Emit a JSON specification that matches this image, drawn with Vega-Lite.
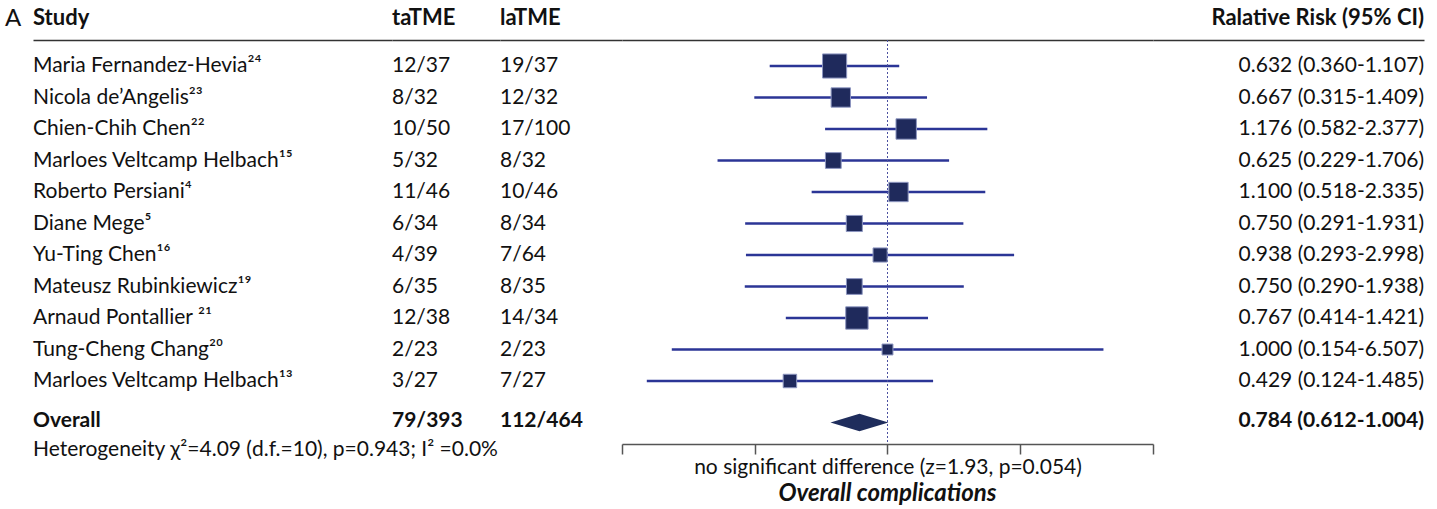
{
  "$schema": "https://vega.github.io/schema/vega-lite/v6.json",
  "bounds": "flush",
  "spacing": 0,
  "padding": {"left": 5, "top": 7, "right": 5, "bottom": 0},
  "background": "white",
  "config": {
    "view": {"stroke": null},
    "font": "Lato",
    "text": {"font": "Lato", "fontSize": 21, "color": "#111111", "baseline": "middle"},
    "title": {"font": "Lato", "fontSize": 22, "fontWeight": "bold", "color": "#111111", "baseline": "alphabetic", "offset": 10}
  },
  "datasets": {
    "studies": [
      {"study": "Maria Fernandez-Hevia²⁴", "ta": "12/37", "la": "19/37", "rr": 0.632, "lo": 0.360, "hi": 1.107, "weight": 16.6, "label": "0.632 (0.360-1.107)"},
      {"study": "Nicola de’Angelis²³", "ta": "8/32", "la": "12/32", "rr": 0.667, "lo": 0.315, "hi": 1.409, "weight": 10.7, "label": "0.667 (0.315-1.409)"},
      {"study": "Chien-Chih Chen²²", "ta": "10/50", "la": "17/100", "rr": 1.176, "lo": 0.582, "hi": 2.377, "weight": 11.9, "label": "1.176 (0.582-2.377)"},
      {"study": "Marloes Veltcamp Helbach¹⁵", "ta": "5/32", "la": "8/32", "rr": 0.625, "lo": 0.229, "hi": 1.706, "weight": 7.1, "label": "0.625 (0.229-1.706)"},
      {"study": "Roberto Persiani⁴", "ta": "11/46", "la": "10/46", "rr": 1.100, "lo": 0.518, "hi": 2.335, "weight": 10.7, "label": "1.100 (0.518-2.335)"},
      {"study": "Diane Mege⁵", "ta": "6/34", "la": "8/34", "rr": 0.750, "lo": 0.291, "hi": 1.931, "weight": 7.4, "label": "0.750 (0.291-1.931)"},
      {"study": "Yu-Ting Chen¹⁶", "ta": "4/39", "la": "7/64", "rr": 0.938, "lo": 0.293, "hi": 2.998, "weight": 5.7, "label": "0.938 (0.293-2.998)"},
      {"study": "Mateusz Rubinkiewicz¹⁹", "ta": "6/35", "la": "8/35", "rr": 0.750, "lo": 0.290, "hi": 1.938, "weight": 7.1, "label": "0.750 (0.290-1.938)"},
      {"study": "Arnaud Pontallier ²¹", "ta": "12/38", "la": "14/34", "rr": 0.767, "lo": 0.414, "hi": 1.421, "weight": 14.3, "label": "0.767 (0.414-1.421)"},
      {"study": "Tung-Cheng Chang²⁰", "ta": "2/23", "la": "2/23", "rr": 1.000, "lo": 0.154, "hi": 6.507, "weight": 3.4, "label": "1.000 (0.154-6.507)"},
      {"study": "Marloes Veltcamp Helbach¹³", "ta": "3/27", "la": "7/27", "rr": 0.429, "lo": 0.124, "hi": 1.485, "weight": 5.2, "label": "0.429 (0.124-1.485)"}
    ],
    "overall": [
      {"study": "Overall", "ta": "79/393", "la": "112/464", "rr": 0.784, "lo": 0.612, "hi": 1.004, "label": "0.784 (0.612-1.004)"}
    ],
    "het": [
      {"study": "Heterogeneity χ²=4.09 (d.f.=10), p=0.943; I² =0.0%"}
    ]
  },
  "hconcat": [
    {
      "width": 28,
      "height": 404,
      "title": {"text": "A", "anchor": "start", "font": "Lato", "fontSize": 24, "fontWeight": "normal", "offset": 9},
      "data": {"values": []},
      "mark": "text"
    },
    {
      "width": 359,
      "height": 404,
      "title": {"text": "Study", "anchor": "start"},
      "encoding": {
        "x": {"datum": 0, "type": "quantitative", "scale": {"domain": [0, 1]}, "axis": {"orient": "top", "domain": true, "domainColor": "#333333", "domainWidth": 1.5, "ticks": false, "labels": false, "grid": false, "title": null}},
        "y": {"field": "study", "type": "nominal", "axis": null, "scale": {"type": "point", "padding": 0.4127, "align": 1, "domain": ["Maria Fernandez-Hevia²⁴", "Nicola de’Angelis²³", "Chien-Chih Chen²²", "Marloes Veltcamp Helbach¹⁵", "Roberto Persiani⁴", "Diane Mege⁵", "Yu-Ting Chen¹⁶", "Mateusz Rubinkiewicz¹⁹", "Arnaud Pontallier ²¹", "Tung-Cheng Chang²⁰", "Marloes Veltcamp Helbach¹³", "Overall", "Heterogeneity χ²=4.09 (d.f.=10), p=0.943; I² =0.0%"]}}
      },
      "layer": [
        {"data": {"name": "studies"}, "mark": {"type": "text", "align": "left"}, "encoding": {"text": {"field": "study"}}},
        {"data": {"name": "overall"}, "mark": {"type": "text", "align": "left", "fontWeight": "bold", "dy": 8}, "encoding": {"text": {"field": "study"}}},
        {"data": {"name": "het"}, "mark": {"type": "text", "align": "left", "dy": 6}, "encoding": {"text": {"field": "study"}}}
      ]
    },
    {
      "width": 108,
      "height": 404,
      "title": {"text": "taTME", "anchor": "start"},
      "encoding": {
        "x": {"datum": 0, "type": "quantitative", "scale": {"domain": [0, 1]}, "axis": {"orient": "top", "domain": true, "domainColor": "#333333", "domainWidth": 1.5, "ticks": false, "labels": false, "grid": false, "title": null}},
        "y": {"field": "study", "type": "nominal", "axis": null, "scale": {"type": "point", "padding": 0.4127, "align": 1, "domain": ["Maria Fernandez-Hevia²⁴", "Nicola de’Angelis²³", "Chien-Chih Chen²²", "Marloes Veltcamp Helbach¹⁵", "Roberto Persiani⁴", "Diane Mege⁵", "Yu-Ting Chen¹⁶", "Mateusz Rubinkiewicz¹⁹", "Arnaud Pontallier ²¹", "Tung-Cheng Chang²⁰", "Marloes Veltcamp Helbach¹³", "Overall", "Heterogeneity χ²=4.09 (d.f.=10), p=0.943; I² =0.0%"]}}
      },
      "layer": [
        {"data": {"name": "studies"}, "mark": {"type": "text", "align": "left"}, "encoding": {"text": {"field": "ta"}}},
        {"data": {"name": "overall"}, "mark": {"type": "text", "align": "left", "fontWeight": "bold", "dy": 8}, "encoding": {"text": {"field": "ta"}}}
      ]
    },
    {
      "width": 122,
      "height": 404,
      "title": {"text": "laTME", "anchor": "start"},
      "encoding": {
        "x": {"datum": 0, "type": "quantitative", "scale": {"domain": [0, 1]}, "axis": {"orient": "top", "domain": true, "domainColor": "#333333", "domainWidth": 1.5, "ticks": false, "labels": false, "grid": false, "title": null}},
        "y": {"field": "study", "type": "nominal", "axis": null, "scale": {"type": "point", "padding": 0.4127, "align": 1, "domain": ["Maria Fernandez-Hevia²⁴", "Nicola de’Angelis²³", "Chien-Chih Chen²²", "Marloes Veltcamp Helbach¹⁵", "Roberto Persiani⁴", "Diane Mege⁵", "Yu-Ting Chen¹⁶", "Mateusz Rubinkiewicz¹⁹", "Arnaud Pontallier ²¹", "Tung-Cheng Chang²⁰", "Marloes Veltcamp Helbach¹³", "Overall", "Heterogeneity χ²=4.09 (d.f.=10), p=0.943; I² =0.0%"]}}
      },
      "layer": [
        {"data": {"name": "studies"}, "mark": {"type": "text", "align": "left"}, "encoding": {"text": {"field": "la"}}},
        {"data": {"name": "overall"}, "mark": {"type": "text", "align": "left", "fontWeight": "bold", "dy": 8}, "encoding": {"text": {"field": "la"}}}
      ]
    },
    {
      "width": 531,
      "height": 404,
      "title": {"text": "Overall complications", "orient": "bottom", "anchor": "middle", "fontSize": 24, "fontWeight": "bold", "fontStyle": "italic", "baseline": "top", "offset": 4},
      "resolve": {"axis": {"x": "independent"}},
      "layer": [
        {
          "data": {"name": "studies"},
          "mark": {"type": "rule", "color": "#2b3596", "strokeWidth": 2.5},
          "encoding": {
            "x": {"field": "lo", "type": "quantitative", "scale": {"type": "log", "domain": [0.1, 10]}, "axis": {"orient": "top", "domain": true, "domainColor": "#333333", "domainWidth": 1.5, "ticks": false, "labels": false, "grid": false, "title": null}},
            "x2": {"field": "hi"},
            "y": {"field": "study", "type": "nominal", "axis": null, "scale": {"type": "point", "padding": 0.4127, "align": 1, "domain": ["Maria Fernandez-Hevia²⁴", "Nicola de’Angelis²³", "Chien-Chih Chen²²", "Marloes Veltcamp Helbach¹⁵", "Roberto Persiani⁴", "Diane Mege⁵", "Yu-Ting Chen¹⁶", "Mateusz Rubinkiewicz¹⁹", "Arnaud Pontallier ²¹", "Tung-Cheng Chang²⁰", "Marloes Veltcamp Helbach¹³", "Overall", "Heterogeneity χ²=4.09 (d.f.=10), p=0.943; I² =0.0%"]}}
          }
        },
        {
          "data": {"values": [{"ref": 1}]},
          "mark": {"type": "rule", "color": "#4b50a0", "strokeWidth": 1, "strokeDash": [2, 2]},
          "encoding": {
            "x": {"field": "ref", "type": "quantitative", "axis": {"orient": "bottom", "domain": true, "domainColor": "#555555", "domainWidth": 1.5, "ticks": true, "tickColor": "#555555", "tickWidth": 1.5, "tickSize": 10, "values": [0.1, 0.316227766, 1, 3.16227766, 10], "labels": false, "grid": false, "title": "no significant difference (z=1.93, p=0.054)", "titleFont": "Lato", "titleFontSize": 21, "titleFontWeight": "normal", "titleColor": "#111111", "titlePadding": 2}}
          }
        },
        {
          "data": {"name": "studies"},
          "mark": {"type": "point", "shape": "square", "filled": true, "color": "#1f2a5c", "stroke": "#8d96c0", "strokeWidth": 1, "opacity": 1},
          "encoding": {
            "x": {"field": "rr", "type": "quantitative", "axis": null},
            "y": {"field": "study", "type": "nominal", "axis": null},
            "size": {"field": "weight", "type": "quantitative", "scale": {"type": "linear", "domain": [0, 100], "range": [0, 3500]}, "legend": null}
          }
        },
        {
          "data": {"name": "overall"},
          "mark": {"type": "point", "shape": "M-1,0.345L0,0.045L1,0.345L0,0.645Z", "filled": true, "color": "#1f2d5c", "opacity": 1, "size": 3364},
          "encoding": {
            "x": {"field": "rr", "type": "quantitative", "axis": null},
            "y": {"field": "study", "type": "nominal", "axis": null}
          }
        }
      ]
    },
    {
      "width": 271,
      "height": 404,
      "title": {"text": "Ralative Risk (95% CI)", "anchor": "end"},
      "encoding": {
        "x": {"datum": 1, "type": "quantitative", "scale": {"domain": [0, 1]}, "axis": {"orient": "top", "domain": true, "domainColor": "#333333", "domainWidth": 1.5, "ticks": false, "labels": false, "grid": false, "title": null}},
        "y": {"field": "study", "type": "nominal", "axis": null, "scale": {"type": "point", "padding": 0.4127, "align": 1, "domain": ["Maria Fernandez-Hevia²⁴", "Nicola de’Angelis²³", "Chien-Chih Chen²²", "Marloes Veltcamp Helbach¹⁵", "Roberto Persiani⁴", "Diane Mege⁵", "Yu-Ting Chen¹⁶", "Mateusz Rubinkiewicz¹⁹", "Arnaud Pontallier ²¹", "Tung-Cheng Chang²⁰", "Marloes Veltcamp Helbach¹³", "Overall", "Heterogeneity χ²=4.09 (d.f.=10), p=0.943; I² =0.0%"]}}
      },
      "layer": [
        {"data": {"name": "studies"}, "mark": {"type": "text", "align": "right"}, "encoding": {"text": {"field": "label"}}},
        {"data": {"name": "overall"}, "mark": {"type": "text", "align": "right", "fontWeight": "bold", "dy": 8}, "encoding": {"text": {"field": "label"}}}
      ]
    }
  ]
}
